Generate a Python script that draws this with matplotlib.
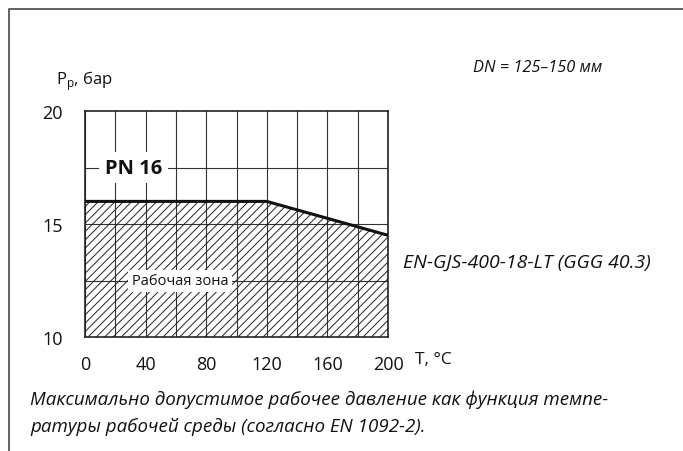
import numpy as np
import matplotlib
matplotlib.use("Agg")
import matplotlib.pyplot as plt
from matplotlib.lines import Line2D

plt.rcParams['font.family'] = ['Open Sans', 'DejaVu Sans']
plt.rcParams['mathtext.fontset'] = 'custom'
plt.rcParams['mathtext.rm'] = 'Open Sans'
plt.rcParams['hatch.linewidth'] = 0.7
plt.rcParams['hatch.color'] = '#222222'

# данные кривой давления (EN-GJS-400-18-LT, PN 16)
temps = [0, 120, 200]
pressures = [16.0, 16.0, 14.5]

x_ticks = [0, 40, 80, 120, 160, 200]
y_ticks = [10, 15, 20]
x_grid = np.arange(0, 201, 20)
y_grid = [12.5, 15, 17.5]

W, H = 683, 452
fig = plt.figure(figsize=(W / 100, H / 100), dpi=100)

# внешняя рамка (слева и сверху)
fig.add_artist(Line2D([9 / W, 9 / W, 1.0], [0.0, 1 - 10 / H, 1 - 10 / H],
                      transform=fig.transFigure, color='#555555', lw=1.3))

ax = fig.add_axes([85 / W, 1 - 338 / H, 303 / W, 226 / H])
ax.set_xlim(0, 200)
ax.set_ylim(10, 20)

for xv in x_grid:
    ax.axvline(xv, color='#333333', lw=0.8, zorder=1)
for yv in y_grid:
    ax.axhline(yv, color='#333333', lw=0.8, zorder=1)

ax.fill_between(temps, 10, pressures, facecolor='none', edgecolor='#222222',
                hatch='////', lw=0, zorder=2)
ax.plot(temps, pressures, color='#111111', lw=2.2, zorder=3,
        solid_capstyle='butt')

for s in ax.spines.values():
    s.set_color('#222222')
    s.set_linewidth(1.2)

ax.set_xticks(x_ticks)
ax.set_yticks(y_ticks)
ax.tick_params(length=0, labelsize=13, colors='#111111')
ax.tick_params(axis='x', pad=13)
ax.tick_params(axis='y', pad=16)

ax.text(13, 17.5, 'PN 16', fontsize=14.5, fontweight='bold', va='center',
        ha='left', color='#111111', zorder=4,
        bbox=dict(facecolor='white', edgecolor='none', pad=4))
ax.text(31, 12.5, 'Рабочая зона', fontsize=10.5, va='center', ha='left',
        color='#111111', zorder=4,
        bbox=dict(facecolor='white', edgecolor='none', pad=2.5))

fig.text(56 / W, 1 - 81 / H, r'P$_{\mathrm{p}}$, бар', fontsize=12,
         va='center', ha='left', color='#111111')
fig.text(415 / W, 1 - 360 / H, 'T, °C', fontsize=12.5, va='center',
         ha='left', color='#111111')
fig.text(473 / W, 1 - 68 / H, 'DN = 125–150 мм', fontsize=11.8,
         style='italic', va='center', ha='left', color='#111111')
fig.text(403 / W, 1 - 263 / H, 'EN-GJS-400-18-LT (GGG 40.3)', fontsize=14,
         style='italic', va='center', ha='left', color='#111111')
fig.text(30 / W, 1 - 400 / H,
         'Максимально допустимое рабочее давление как функция темпе-',
         fontsize=13.5, style='italic', va='center', ha='left',
         color='#111111')
fig.text(30 / W, 1 - 427 / H,
         'ратуры рабочей среды (согласно EN 1092-2).',
         fontsize=13.5, style='italic', va='center', ha='left',
         color='#111111')

fig.savefig('out.png', dpi=100)
